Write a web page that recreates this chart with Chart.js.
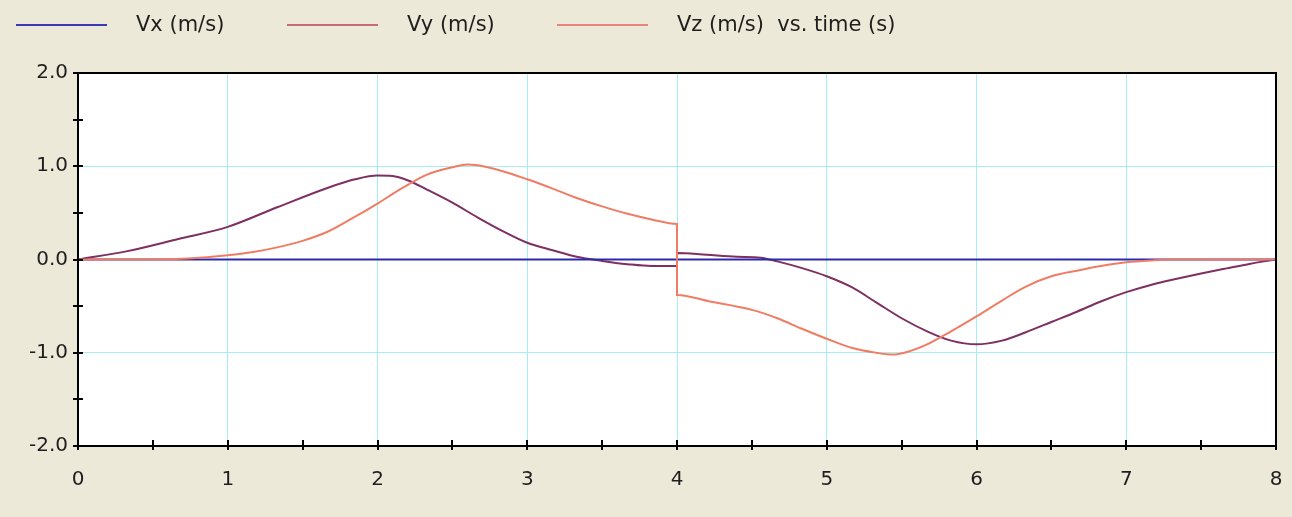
<!DOCTYPE html>
<html><head><meta charset="utf-8">
<script src="https://cdn.jsdelivr.net/npm/chart.js@4"></script>
<style>html,body{margin:0;padding:0;background:#ece9d8;overflow:hidden}</style>
</head><body>
<canvas id="c" width="1292" height="517" style="width:1292px;height:517px;display:block"></canvas>
<script>
// ---- data ----
const seriesNames = ['Vx (m/s)', 'Vy (m/s)', 'Vz (m/s)  vs. time (s)'];
const vxTime = [0, 8];
const vxValues = [0, 0];
const vyTime = [0, 0.33, 0.67, 1.0, 1.33, 1.67, 1.85, 2.0, 2.1, 2.2, 2.33, 2.5, 2.67, 2.83, 3.0, 3.17, 3.33, 3.5, 3.67, 3.83, 4.0, 4.0, 4.2, 4.4, 4.56, 4.67, 4.83, 5.0, 5.17, 5.33, 5.5, 5.67, 5.83, 6.0, 6.17, 6.33, 6.5, 6.67, 6.83, 7.0, 7.17, 7.33, 7.5, 7.67, 7.83, 8.0];
const vyValues = [0, 0.09, 0.22, 0.35, 0.56, 0.77, 0.86, 0.90, 0.895, 0.85, 0.75, 0.61, 0.45, 0.31, 0.18, 0.10, 0.03, -0.015, -0.05, -0.07, -0.07, 0.07, 0.05, 0.03, 0.02, -0.02, -0.09, -0.18, -0.30, -0.46, -0.63, -0.77, -0.87, -0.91, -0.87, -0.78, -0.67, -0.56, -0.45, -0.35, -0.27, -0.21, -0.15, -0.095, -0.045, 0];
const vzTime = [0, 0.5, 0.73, 1.0, 1.17, 1.33, 1.5, 1.67, 1.83, 2.0, 2.17, 2.33, 2.5, 2.6, 2.67, 2.83, 3.0, 3.17, 3.33, 3.5, 3.67, 3.83, 4.0, 4.0, 4.22, 4.5, 4.67, 4.83, 5.0, 5.17, 5.33, 5.44, 5.56, 5.67, 5.83, 6.0, 6.17, 6.33, 6.5, 6.67, 6.83, 7.0, 7.17, 7.33, 7.5, 8.0];
const vzValues = [0, 0, 0.01, 0.045, 0.08, 0.13, 0.2, 0.3, 0.44, 0.60, 0.77, 0.91, 0.99, 1.02, 1.01, 0.95, 0.86, 0.76, 0.66, 0.57, 0.49, 0.43, 0.38, -0.38, -0.45, -0.54, -0.63, -0.74, -0.85, -0.95, -1.0, -1.02, -0.98, -0.91, -0.77, -0.61, -0.44, -0.29, -0.18, -0.12, -0.07, -0.03, -0.01, 0, 0, 0];
const xTickLabels = ['0','1','2','3','4','5','6','7','8'];
const yTickLabels = ['-2.0','-1.0','0.0','1.0','2.0'];

const lineColors = ['#2a2ab0', '#7e3062', '#f07c64'];
const legendColors = ['#3a3ab8', '#c46a78', '#e8867c'];
const FONT = 'DejaVu Sans';

function pts(t, v) { return t.map((x, i) => ({x: x, y: v[i]})); }
const isInt = v => Math.abs(v - Math.round(v)) < 1e-9;

const framePlugin = {
  id: 'frame',
  beforeDraw(chart) {
    const ctx = chart.ctx, a = chart.chartArea;
    ctx.save();
    ctx.fillStyle = '#ece9d8';
    ctx.fillRect(0, 0, chart.width, chart.height);
    ctx.fillStyle = '#ffffff';
    ctx.fillRect(a.left, a.top, a.right - a.left, a.bottom - a.top);
    ctx.restore();
  },
  afterDraw(chart) {
    const ctx = chart.ctx, a = chart.chartArea;
    const xs = chart.scales.x, ys = chart.scales.y;
    ctx.save();
    ctx.strokeStyle = '#000';
    ctx.lineWidth = 2;
    ctx.strokeRect(a.left, a.top, a.right - a.left, a.bottom - a.top);
    ctx.lineWidth = 2;
    ctx.beginPath();
    xs.ticks.forEach(t => {
      const px = Math.round(xs.getPixelForValue(t.value));
      ctx.moveTo(px, a.bottom - 6); ctx.lineTo(px, a.bottom + 4);
    });
    ys.ticks.forEach(t => {
      const py = Math.round(ys.getPixelForValue(t.value));
      ctx.moveTo(a.left - 5, py); ctx.lineTo(a.left + 5, py);
    });
    ctx.stroke();
    // legend
    const items = [[16, 107, 136], [287, 378, 407], [557, 648, 677]];
    ctx.font = '21px "' + FONT + '"';
    ctx.textBaseline = 'middle';
    ctx.textAlign = 'left';
    items.forEach((it, i) => {
      ctx.strokeStyle = legendColors[i];
      ctx.lineWidth = 2;
      ctx.beginPath(); ctx.moveTo(it[0], 25); ctx.lineTo(it[1], 25); ctx.stroke();
      ctx.fillStyle = '#1e1e1e';
      ctx.fillText(seriesNames[i], it[2], 26);
    });
    ctx.restore();
  }
};

new Chart(document.getElementById('c'), {
  type: 'line',
  data: {
    datasets: [
      {label: seriesNames[0], data: pts(vxTime, vxValues), borderColor: lineColors[0], borderWidth: 2, pointRadius: 0, order: 2},
      {label: seriesNames[1], data: pts(vyTime, vyValues), borderColor: lineColors[1], borderWidth: 2, pointRadius: 0, cubicInterpolationMode: 'monotone', order: 3},
      {label: seriesNames[2], data: pts(vzTime, vzValues), borderColor: lineColors[2], borderWidth: 2, pointRadius: 0, cubicInterpolationMode: 'monotone', order: 1}
    ]
  },
  options: {
    responsive: false,
    animation: false,
    devicePixelRatio: 1,
    layout: {padding: {top: 73, right: 16, bottom: 21, left: 0}},
    plugins: {legend: {display: false}, tooltip: {enabled: false}},
    scales: {
      x: {
        type: 'linear', min: 0, max: 8,
        afterFit: s => { s.height = 50; s.paddingLeft = 0; s.paddingRight = 0; },
        ticks: {stepSize: 0.5, autoSkip: false, maxRotation: 0, padding: 22,
          color: '#1e1e1e', font: {family: FONT, size: 20},
          callback: v => isInt(v) ? xTickLabels[Math.round(v)] : ''},
        grid: {drawTicks: false, lineWidth: 1,
          color: c => (c.tick && isInt(c.tick.value) && c.tick.value > 0 && c.tick.value < 8) ? '#a6eef0' : 'rgba(0,0,0,0)'},
        border: {display: false}
      },
      y: {
        min: -2, max: 2,
        afterFit: s => { s.width = 78; s.paddingTop = 0; s.paddingBottom = 0; },
        ticks: {stepSize: 0.5, autoSkip: false, padding: 10,
          color: '#1e1e1e', font: {family: FONT, size: 20},
          callback: v => isInt(v) ? yTickLabels[Math.round(v) + 2] : ''},
        grid: {drawTicks: false, lineWidth: 1,
          color: c => (c.tick && isInt(c.tick.value) && c.tick.value > -2 && c.tick.value < 2) ? '#a6eef0' : 'rgba(0,0,0,0)'},
        border: {display: false}
      }
    }
  },
  plugins: [framePlugin]
});
</script>
</body></html>
